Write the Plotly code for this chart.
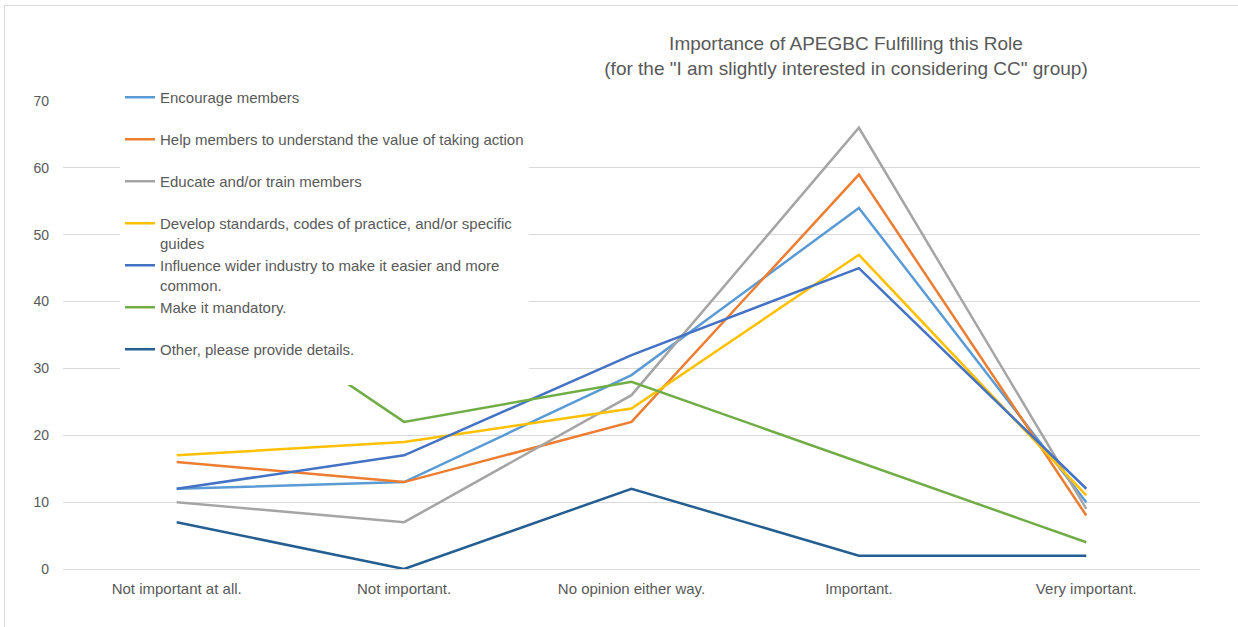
import plotly.graph_objects as go

categories = ["Not important at all.", "Not important.", "No opinion either way.", "Important.", "Very important."]

series_names = [
    "Encourage members",
    "Help members to understand the value of taking action",
    "Educate and/or train members",
    "Develop standards, codes of practice, and/or specific<br>guides",
    "Influence wider industry to make it easier and more<br>common.",
    "Make it mandatory.",
    "Other, please provide details.",
]
encourage = [12, 13, 29, 54, 10]
help_understand = [16, 13, 22, 59, 8]
educate = [10, 7, 26, 66, 9]
develop = [17, 19, 24, 47, 11]
influence = [12, 17, 32, 45, 12]
mandatory = [45, 22, 28, 16, 4]
other = [7, 0, 12, 2, 2]

series_values = [encourage, help_understand, educate, develop, influence, mandatory, other]
colors = ["#5B9BD5", "#ED7D31", "#A5A5A5", "#FFC000", "#4472C4", "#70AD47", "#255E91"]

W, H = 1238, 627
L, R, T, B = 63, 38, 101, 58

fig = go.Figure()
for i, (name, vals, col) in enumerate(zip(series_names, series_values, colors)):
    label = name if "<br>" in name else name + "<br>&nbsp;"
    fig.add_trace(go.Scatter(
        x=categories, y=vals, mode="lines", name=label,
        line=dict(color=col, width=2.5),
        legendgroup=f"g{i}",
    ))

font_family = "Liberation Sans, Arial, sans-serif"
txt = "#595959"

pw = W - L - R
ph = H - T - B
fig.add_shape(type="rect", xref="paper", yref="paper",
              x0=(4.5 - L) / pw, x1=(W + 10 - L) / pw,
              y0=(H - B - (H + 10)) / ph, y1=(H - B - 5.5) / ph,
              line=dict(color="#d9d9d9", width=1), fillcolor="rgba(0,0,0,0)", layer="below")

fig.update_layout(
    width=W, height=H,
    margin=dict(l=L, r=R, t=T, b=B, autoexpand=False),
    paper_bgcolor="white", plot_bgcolor="white",
    font=dict(family=font_family, size=15, color=txt),
    title=dict(
        text="Importance of APEGBC Fulfilling this Role<br>(for the \"I am slightly interested in considering CC\" group)",
        x=846 / W, xref="container", xanchor="center",
        y=1 - 50 / H, yref="container", yanchor="top",
        font=dict(size=19, color=txt, family=font_family),
    ),
    xaxis=dict(
        type="category", range=[-0.5, 4.5], showgrid=False, zeroline=False,
        showline=False, ticks="", tickfont=dict(size=15, color=txt),
        ticklabelstandoff=9, fixedrange=True,
    ),
    yaxis=dict(
        range=[0, 70], dtick=10, showgrid=True, gridcolor="#d9d9d9", gridwidth=1,
        zeroline=True, zerolinecolor="#d9d9d9", zerolinewidth=1,
        showline=False, ticks="", tickfont=dict(size=14, color=txt),
        ticklabelstandoff=13, fixedrange=True,
    ),
    legend=dict(
        x=(120 - L) / pw, y=(H - B - 81) / ph, xanchor="left", yanchor="top",
        bgcolor="white", borderwidth=0, tracegroupgap=0,
        font=dict(size=15, color=txt, family=font_family),
        valign="top", itemwidth=30,
    ),
    showlegend=True,
)

fig.write_html("out.html", config={"displayModeBar": False},
               post_script="document.body.style.margin='0';")
